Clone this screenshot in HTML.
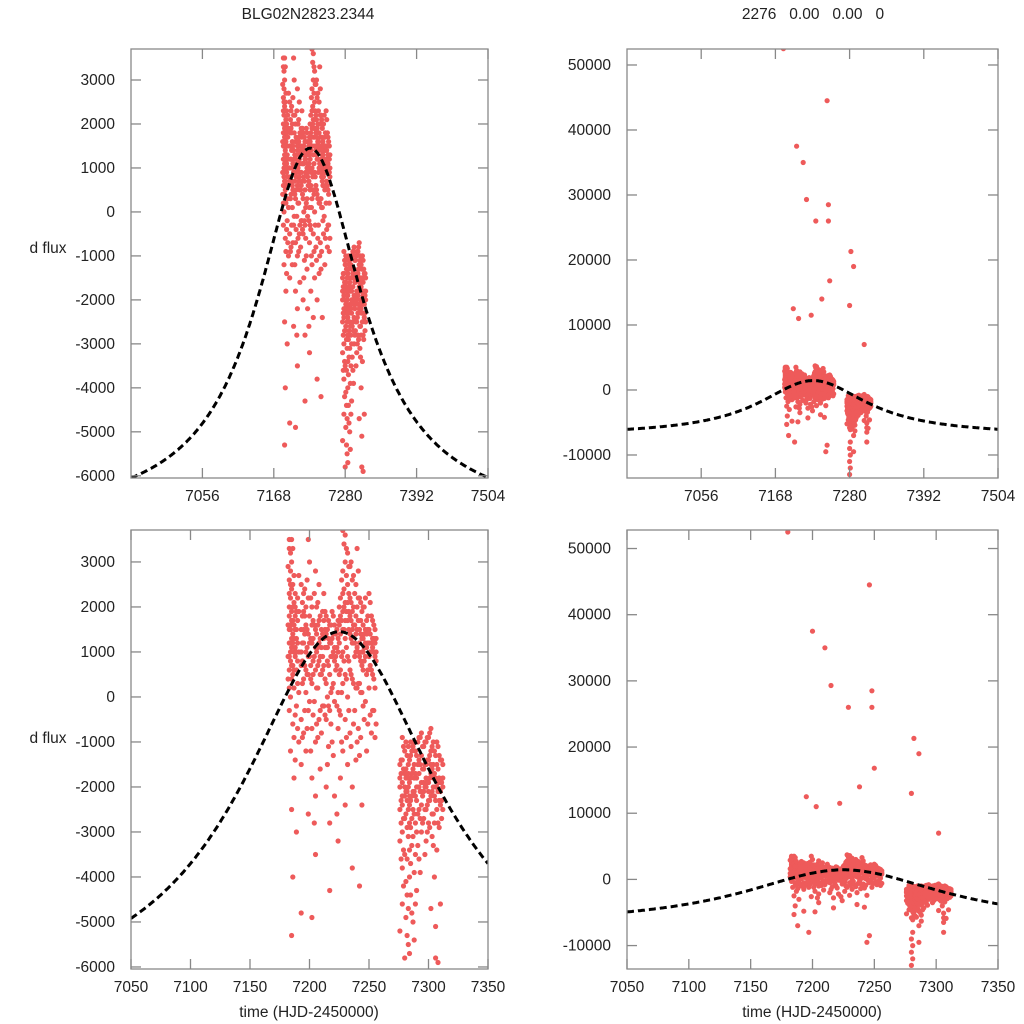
<!DOCTYPE html>
<html><head><meta charset="utf-8"><style>
html,body{margin:0;background:#fff;width:1024px;height:1024px;overflow:hidden}
svg{display:block}
svg text{font-family:"Liberation Sans",sans-serif;font-size:15.5px;fill:#222}
</style></head><body>
<svg id="chart" width="1024" height="1024" viewBox="0 0 1024 1024" xmlns="http://www.w3.org/2000/svg">
<rect width="1024" height="1024" fill="#fff"/>
<text x="308" y="19" text-anchor="middle">BLG02N2823.2344</text>
<text x="813" y="19" text-anchor="middle" xml:space="preserve">2276   0.00   0.00   0</text>
<text x="48" y="253" text-anchor="middle">d flux</text>
<text x="48" y="743" text-anchor="middle">d flux</text>
<text x="309" y="1017" text-anchor="middle">time (HJD-2450000)</text>
<text x="812" y="1017" text-anchor="middle">time (HJD-2450000)</text>
</svg>
<script>
const obsTimes=[7180,7183,7184,7185,7186,7187,7188,7189,7190,7193,7195,7197,7199,7200,7202,7203,7205,7207,7209,7210,7212,7214,7215,7217,7219,7221,7222,7224,7226,7228,7229,7230,7232,7234,7236,7238,7240,7242,7244,7246,7248,7250,7252,7254,7256,7276,7278,7280,7281,7282,7283,7284,7286,7288,7290,7292,7294,7296,7298,7300,7302,7304,7306,7308,7310,7312,
7182,7191,7194,7196,7198,7201,7204,7206,7208,7211,7213,7216,7218,7220,7223,7225,7227,7231,7233,7235,7237,7239,7241,7243,7245,7247,7249,7251,7253,7255,7277,7279,7285,7287,7289,7291,7293,7295,7297,7299,7301,7303,7305,7307,7309,7311];
const obsFlux=[
[52500],
[3500,2600,1800,1200,600,200,-300,900,3300,2300,1500,2000],
[3200,2200,1500,800,0,-1200,1600,2800,1000,2500],
[3000,1900,1100,400,-5300,-2500,2400,1300,3500,1700,700],
[2500,1700,700,-600,1400,-4000,3300,500,2000,1200],
[2100,1300,200,-900,1000,2700,-1800,600,1600],
[1800,900,-400,1500,2300,-1400,1100,-7000,2000],
[1500,600,1900,-200,1000,-3000,1300],
[1200,300,-700,1700,800,2200],
[2500,1500,700,-500,-1500,-4800,1000],
[2300,1200,400,-800,1900,12500,1500],
[2000,1000,100,-1200,1600,600,-8000],
[3500,2200,1400,500,-300,-2600,900],
[3000,1800,900,-100,37500,1200],
[2000,1200,300,-700,-1800,-4900,1600],
[1700,800,-400,1300,11000,500],
[2800,1500,600,-1000,-2200,-3500,1100],
[2100,1100,200,-900,1600,700],
[1800,900,-300,1300,-1600,500],
[1500,500,-800,35000,1100],
[2300,1300,700,-200,1700],
[1800,1100,300,-500,-2000,1400],
[1500,800,0,-1500,29300,1100],
[1200,500,-300,-2800,-4300,1600],
[1900,900,200,-1000,1300],
[1600,800,-100,-2200,1100],
[1400,600,11500,900],
[1700,1000,100,-700,-3200,1300],
[2200,1400,600,-400,-1800,1800],
[3700,2800,1900,1000,300,-1200,2300,1500],
[3400,2400,1500,800,26000,2000],
[3600,3000,2100,1300,500,-500,-2400,1700],
[3200,2500,1700,900,0,-1500,2100],
[2900,2200,1400,600,-800,1800],
[2600,1900,1200,400,-2000,-3800,1500],
[2300,1600,900,-300,14000,1200],
[3300,2000,1100,200,-1000,1500],
[2200,1500,900,300,-1300,-4200,1200],
[1900,1300,700,100,-2400,-9500,1000],
[2000,1400,800,-500,44500,1100,-8500],
[1700,1100,500,-1200,28500,26000,1400],
[2300,1500,900,200,16800,1200],
[1800,1200,600,-800,1000],
[1600,1000,400,-300,1300],
[1300,800,-600,1000],
[-1500,-2000,-2500,-3200,-5200,-1800],
[-900,-1400,-1900,-2400,-3000,-3800,-4600,-2200],
[-1200,-1700,-2200,-2700,-3500,-5800,13000,-9000,-11000,-13000,-2000],
[-1000,-1600,-2100,-2600,-4100,-4900,-6100,-8000,-10000,-12000,-1800],
[-1300,-1800,-2300,-2900,-3600,-4400,-5300,21300,-2100],
[-1100,-1500,-2000,-2500,-3100,-4700,-5500,-1700],
[-1400,-1900,-2400,-2800,-3400,-4000,-5700,-2200],
[-1200,-1700,-2200,-2700,-3300,-4800,19000,-7000,-9500],
[-1000,-1500,-2100,-2600,-3900,-5400,-6300,-1800],
[-1300,-1800,-2300,-3000,-4300,-2000],
[-900,-1400,-2000,-2500,-3600,-1700],
[-800,-1300,-1900,-2400,-3000,-2100],
[-1100,-1600,-2100,-2700,-1900],
[-1000,-1500,-2000,-2500,-3200,-1800],
[-900,-1400,-1900,-2300,-2800,-2100],
[-700,-1200,-1700,-2200,-4700,7000,-1500],
[-1000,-1500,-2000,-2600,-3300,-1800],
[-1300,-1800,-2300,-5100,-5800,-6500,-8000,-2000],
[-1100,-1600,-2100,-2800,-5900,-1900],
[-1400,-1900,-2400,-4600,-2100],
[-1500,-2000,-2500,-1800],
[1600,900,2900,400],
[1900,1000,100,2700,-1000],
[2100,1200,300,-900,1800,800],
[1800,700,-300,2400,1400],
[2600,1500,500,-700,1100],
[2200,1300,400,-1200,700],
[1600,900,-100,2300,-2800],
[2000,1000,200,-600,1400],
[1700,800,-500,2500,1200],
[1400,600,-200,1900,900],
[1900,1100,400,-400,1500],
[1300,700,-200,1700,-1100],
[1600,900,100,-600,1200],
[1800,1000,300,-1300,1400],
[1500,700,-200,1100,-2600],
[2000,1200,500,-300,1600],
[2600,1700,900,100,-1000],
[3300,2700,1900,1100,400,-900],
[2900,2300,1500,800,-300,1900],
[3000,2100,1300,500,-1100,1700],
[2700,2000,1200,300,-600,1600],
[2500,1800,1000,200,-1400,1400],
[2800,1700,1000,300,-700,2200],
[2100,1400,800,100,-900,1700],
[2000,1300,600,-200,1600,1000],
[2200,1500,900,-100,1200],
[1800,1200,600,-600,1500],
[2100,1400,700,-400,1000],
[1700,1100,500,-300,1300],
[1500,900,200,-900,1200],
[-1700,-2300,-2800,-3600,-1400],
[-1100,-1600,-2200,-2700,-3400,-4200],
[-1300,-1800,-2300,-2900,-3700,-4400,-1000],
[-1100,-1600,-2100,-2500,-3100,-5000],
[-1200,-1700,-2200,-2800,-3500,-4600],
[-1000,-1500,-2000,-2600,-3300],
[-900,-1500,-2100,-2700,-3900],
[-1100,-1600,-2200,-2800],
[-1000,-1500,-2000,-2500,-3500],
[-900,-1400,-1900,-2400,-3000],
[-800,-1300,-1800,-2300,-2900],
[-1100,-1600,-2100,-2600,-3100],
[-1200,-1700,-2200,-2800,-4000],
[-1000,-1500,-2000,-2500,-3400],
[-1300,-1800,-2300,-2900],
[-1400,-1900,-2300,-2700]
];
const modelPeakTime=7225;
const modelPeakFlux=1450;
const modelBaseFlux=-7000;
const modelWidth=100;
const topXTicks=[7056,7168,7280,7392,7504];
const bottomXTicks=[7050,7100,7150,7200,7250,7300,7350];
const leftYTicks=[-6000,-5000,-4000,-3000,-2000,-1000,0,1000,2000,3000];
const rightYTicks=[-10000,0,10000,20000,30000,40000,50000];

const NS='http://www.w3.org/2000/svg';
const svg=document.getElementById('chart');
function mk(tag,attrs,parent){const e=document.createElementNS(NS,tag);for(const k in attrs)e.setAttribute(k,attrs[k]);(parent||svg).appendChild(e);return e;}
function model(t){const u=(t-modelPeakTime)/modelWidth;return modelBaseFlux+(modelPeakFlux-modelBaseFlux)/(1+u*u);}

const panels=[
 {name:'top-left',x0:131,x1:488,y0:49,y1:478,tmin:6944,tmax:7504,fmin:-6050,fmax:3705,xt:topXTicks,yt:leftYTicks},
 {name:'top-right',x0:627,x1:998,y0:49,y1:478,tmin:6944,tmax:7504,fmin:-13540,fmax:52460,xt:topXTicks,yt:rightYTicks},
 {name:'bottom-left',x0:131,x1:488,y0:530,y1:969,tmin:7050,tmax:7350,fmin:-6045,fmax:3710,xt:bottomXTicks,yt:leftYTicks},
 {name:'bottom-right',x0:627,x1:998,y0:530,y1:969,tmin:7050,tmax:7350,fmin:-13540,fmax:52800,xt:bottomXTicks,yt:rightYTicks}
];
panels.forEach((p,pi)=>{
 const xs=t=>p.x0+(t-p.tmin)/(p.tmax-p.tmin)*(p.x1-p.x0);
 const ys=f=>p.y1-(f-p.fmin)/(p.fmax-p.fmin)*(p.y1-p.y0);
 const g=mk('g',{});
 
 
 const cid='clip'+pi;
 const cp=mk('clipPath',{id:cid},g);
 mk('rect',{x:p.x0,y:p.y0,width:p.x1-p.x0,height:p.y1-p.y0},cp);
 const dots=mk('g',{'clip-path':'url(#'+cid+')',fill:'#ee5a5a'},g);
 
 
 obsTimes.forEach((t,i)=>{obsFlux[i].forEach(f=>{
   const c=mk('circle',{cx:xs(t).toFixed(1),cy:ys(f).toFixed(1),r:2.6},dots);
   
   
 });});
 let d='';
 for(let t=p.tmin;t<=p.tmax;t+=1){d+=(d?'L':'M')+xs(t).toFixed(1)+','+ys(model(t)).toFixed(1);}
 const line=mk('path',{d:d,fill:'none',stroke:'#000','stroke-width':3,'stroke-dasharray':'7,4','clip-path':'url(#'+cid+')'},g);
 
 
 const fr=mk('rect',{x:p.x0,y:p.y0,width:p.x1-p.x0,height:p.y1-p.y0,fill:'none',stroke:'#888','stroke-width':1.3},g);
 
 
 p.xt.forEach(t=>{
   const x=xs(t);
   mk('line',{x1:x,x2:x,y1:p.y1,y2:p.y1-10,stroke:'#888','stroke-width':1.3},g);
   mk('line',{x1:x,x2:x,y1:p.y0,y2:p.y0+10,stroke:'#888','stroke-width':1.3},g);
   const tx=mk('text',{x:x,y:p.y1+23,'text-anchor':'middle'},g);tx.textContent=t;
   
   
 });
 p.yt.forEach(f=>{
   const y=ys(f);
   mk('line',{x1:p.x0,x2:p.x0+10,y1:y,y2:y,stroke:'#888','stroke-width':1.3},g);
   mk('line',{x1:p.x1,x2:p.x1-10,y1:y,y2:y,stroke:'#888','stroke-width':1.3},g);
   const tx=mk('text',{x:p.x0-16,y:y+5,'text-anchor':'end'},g);tx.textContent=f;
   
   
 });
});
</script>
</body></html>
